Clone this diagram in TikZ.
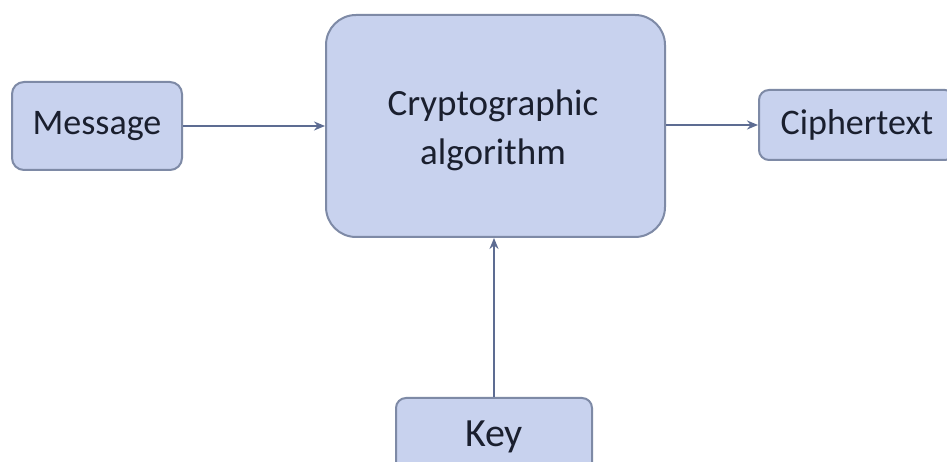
\documentclass[tikz,border=0pt]{standalone}
\usepackage{fontspec}
\setmainfont{Carlito}
\usetikzlibrary{arrows.meta}
\definecolor{boxfill}{HTML}{C8D2EE}
\definecolor{boxline}{HTML}{7E8AA6}
\definecolor{arrowcol}{HTML}{5D6C92}
\definecolor{txt}{HTML}{1A1F2E}
\tikzset{
  block/.style={draw=boxline, fill=boxfill, line width=2pt, text=txt,
    font=\fontsize{36}{48}\selectfont, align=center, inner sep=0pt},
  flow/.style={draw=arrowcol, line width=2.4pt,
    -{Stealth[length=11pt,width=9pt]}}
}
\begin{document}
\begin{tikzpicture}[x=1pt,y=1pt]
  \useasboundingbox[clip] (0,0) rectangle (947,462);
  \fill[white] (0,0) rectangle (947,462);
  % boxes
  \node[block, minimum width=170pt, minimum height=88pt, rounded corners=12pt] (msg) at (97,336) {Message};
  \node[block, minimum width=339pt, minimum height=222pt, rounded corners=30pt] (alg) at (495.5,336) {};
  \node[txt, font=\fontsize{37}{49}\selectfont, align=center, inner sep=0pt] (algtext) at (493,332) {Cryptographic\\algorithm};
  \node[block, minimum width=196pt, minimum height=70pt, rounded corners=10pt] (ct) at (857,337) {Ciphertext};
  \node[block, minimum width=196pt, minimum height=78pt, rounded corners=10pt, font=\fontsize{40}{48}\selectfont] (key) at (494,25) {Key};
  % connectors
  \draw[flow] (msg.east) -- (alg.west);
  \draw[flow] (alg.east |- ct.west) -- (ct.west);
  \draw[flow] (key.north) -- (key.north |- alg.south);
\end{tikzpicture}
\end{document}
